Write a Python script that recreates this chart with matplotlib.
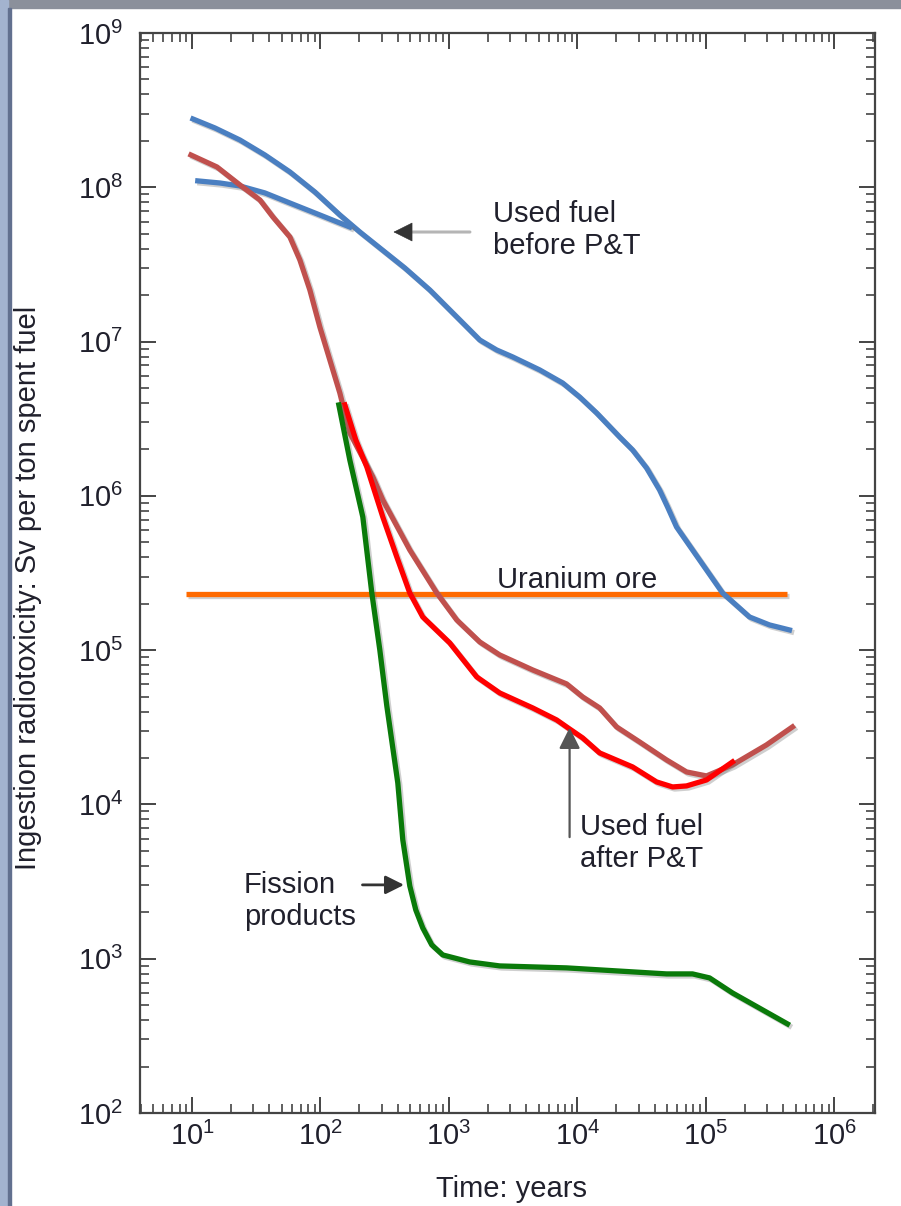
import matplotlib
matplotlib.use('Agg')
import matplotlib.pyplot as plt
import matplotlib.patheffects as pe
from matplotlib.patches import Rectangle

plt.rcParams['font.family'] = ['Liberation Sans', 'DejaVu Sans']
plt.rcParams['mathtext.fontset'] = 'custom'
plt.rcParams['mathtext.rm'] = 'Liberation Sans'
plt.rcParams['font.size'] = 21

text_color = '#20202c'

# used fuel before P&T (main branch and the short upper-left branch)
before_years = [10.18, 15.1, 23.62, 36.96, 57.82, 90.46, 141.5, 202.5, 289.7, 453.3,
                709.3, 1281, 1736, 2353, 3134, 5083, 7672, 10400, 14100, 21290,
                26870, 34520, 43580, 50280, 59070, 89180, 134700, 218300, 312300, 446800]
before_tox = [2.771e8, 2.423e8, 2.025e8, 1.619e8, 1.257e8, 9.32e7, 6.616e7, 5.132e7,
              4.043e7, 3.0e7, 2.16e7, 1.32e7, 1.024e7, 8.82e6, 7.95e6, 6.55e6, 5.39e6,
              4.375e6, 3.446e6, 2.408e6, 1.984e6, 1.516e6, 1.092e6, 8.475e5, 6.286e5,
              3.842e5, 2.348e5, 1.641e5, 1.457e5, 1.352e5]
before_b_years = [11.1, 16.51, 23.6, 36.96, 57.8, 98.9, 169]
before_b_tox = [1.10e8, 1.066e8, 1.02e8, 9.19e7, 7.91e7, 6.616e7, 5.53e7]

# used fuel after P&T, two variants
after_years = [9.82, 15.65, 23.62, 33.8, 42.66, 57.82, 69.17, 82.71, 98.9, 118.3, 141.5,
               169.2, 255.6, 305.6, 495.7, 803.9, 1150, 1736, 2483, 4484, 8241, 10980,
               14880, 20170, 30450, 49380, 70660, 101100, 161000, 295900, 471400]
after_tox = [1.619e8, 1.354e8, 1.035e8, 8.274e7, 6.42e7, 4.763e7, 3.379e7, 2.16e7,
             1.243e7, 7.6e6, 4.644e6, 2.556e6, 1.326e6, 9.406e5, 4.461e5, 2.348e5,
             1.569e5, 1.13e5, 9.31e4, 7.44e4, 6.04e4, 4.975e4, 4.222e4, 3.179e4,
             2.541e4, 1.943e4, 1.624e4, 1.53e4, 1.803e4, 2.43e4, 3.179e4]
after_red_years = [154.8, 188.4, 229.6, 305.6, 392.8, 495.7, 625.5, 1014, 1645, 2483,
                   4484, 6892, 8241, 10980, 14880, 26870, 41300, 55020, 70660, 101100,
                   161000]
after_red_tox = [3.884e6, 2.303e6, 1.539e6, 7.30e5, 4.018e5, 2.348e5, 1.641e5, 1.114e5,
                 6.705e4, 5.279e4, 4.222e4, 3.528e4, 3.179e4, 2.698e4, 2.157e4, 1.75e4,
                 1.399e4, 1.298e4, 1.318e4, 1.441e4, 1.885e4]

# fission products
fp_years = [139, 169.2, 213.6, 251, 289.7, 328.4, 399.9, 437.4, 495.7, 552, 625.5, 735,
            894.9, 1451, 2483, 8241, 49380, 78660, 106700, 161000, 431100]
fp_tox = [3.884e6, 1.709e6, 7.30e5, 2.348e5, 1.003e5, 4.348e4, 1.378e4, 5.888e3,
          2.963e3, 2.071e3, 1.583e3, 1.229e3, 1.058e3, 953, 898, 872, 797, 797, 751,
          600, 378]

# uranium ore reference level
ore_years = [9.0, 430000]
ore_tox = [2.31e5, 2.31e5]

fig = plt.figure(figsize=(9.01, 12.06), dpi=100)
ax = fig.add_axes([140 / 901, 1 - 1113 / 1206, 735 / 901, 1080 / 1206])
ax.set_xscale('log')
ax.set_yscale('log')
ax.set_xlim(3.94, 2.07e6)
ax.set_ylim(1e2, 1e9)

shadow = [pe.SimpleLineShadow(offset=(1.5, -1.5), shadow_color='#777777', alpha=0.35),
          pe.Normal()]
lw = 3.8
ax.plot(ore_years, ore_tox, color='#ff6a00', lw=lw, path_effects=shadow,
        solid_capstyle='butt')
ax.plot(before_years, before_tox, color='#4a7fc1', lw=lw, path_effects=shadow)
ax.plot(before_b_years, before_b_tox, color='#4a7fc1', lw=lw, path_effects=shadow)
ax.plot(after_years, after_tox, color='#c0504d', lw=lw, path_effects=shadow)
ax.plot(after_red_years, after_red_tox, color='#ff0000', lw=lw, path_effects=shadow)
ax.plot(fp_years, fp_tox, color='#0a7a0a', lw=lw, path_effects=shadow)

# labels and arrows
ax.text(2193, 5.29e7, 'Used fuel\nbefore P&T', ha='left', va='center', color=text_color)
ax.annotate('', xy=(380, 5.13e7), xytext=(1531, 5.13e7),
            arrowprops=dict(arrowstyle='-', color='#b5b5b5', lw=2.2))
ax.annotate('', xy=(352, 5.13e7), xytext=(460, 5.13e7),
            arrowprops=dict(arrowstyle='-|>', color='#333333', lw=0.5, mutation_scale=32))

ax.text(1.0e4, 2.53e5, 'Uranium ore', ha='center', va='baseline', color=text_color)

ax.text(1.04e4, 5.62e3, 'Used fuel\nafter P&T', ha='left', va='center', color=text_color)
ax.annotate('', xy=(8690, 3.28e4), xytext=(8690, 5.89e3),
            arrowprops=dict(arrowstyle='-|>', color='#555555', lw=1.6, mutation_scale=32))

ax.text(25.4, 2.37e3, 'Fission\nproducts', ha='left', va='center', color=text_color)
ax.annotate('', xy=(470, 3.01e3), xytext=(202, 3.01e3),
            arrowprops=dict(arrowstyle='-|>', color='#333333', lw=2.0, mutation_scale=28))

ax.set_xlabel('Time: years', color=text_color)
ax.xaxis.set_label_coords(0.506, -0.057)
ax.set_ylabel('Ingestion radiotoxicity: Sv per ton spent fuel', color=text_color)
ax.yaxis.set_label_coords(-0.133, 0.486)

for side in ax.spines.values():
    side.set_color('#444444')
    side.set_linewidth(1.6)
ax.tick_params(which='both', direction='in', top=True, right=True, colors='#444444',
               labelcolor=text_color)
ax.tick_params(which='major', length=11.5, width=1.4)
ax.tick_params(which='minor', length=6.5, width=1.2)
ax.tick_params(axis='x', which='major', pad=6)
ax.tick_params(axis='y', which='major', pad=12)

# window frame around the screenshot
fig.patches.append(Rectangle((0, 1 - 8 / 1206), 1, 8 / 1206, transform=fig.transFigure,
                             color='#8b909b', zorder=0))
fig.patches.append(Rectangle((0, 0), 8 / 901, 1, transform=fig.transFigure,
                             color='#a3b3cf', zorder=0))
fig.patches.append(Rectangle((8 / 901, 0), 3 / 901, 1 - 8 / 1206, transform=fig.transFigure,
                             color='#62708f', zorder=0))

fig.savefig('out.png', dpi=100)
